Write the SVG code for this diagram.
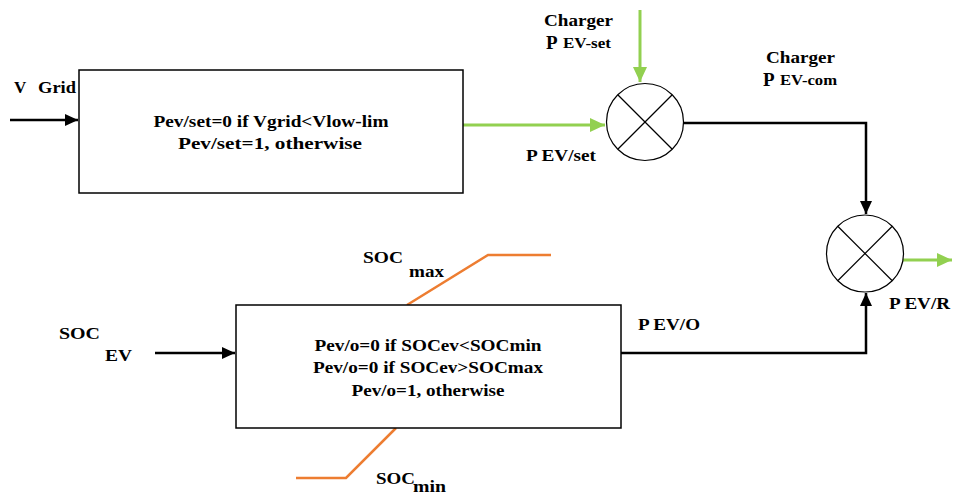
<svg xmlns="http://www.w3.org/2000/svg" width="953" height="497" viewBox="0 0 953 497">
<defs>
<style>
text{font-family:"Liberation Serif","Times New Roman",serif;font-weight:bold;fill:#000;}
.t{font-size:16.5px;}
.l{font-size:17px;}
.p{font-size:19px;}
.s{font-size:14px;}
.blk{stroke:#000;stroke-width:2.5;fill:none;}
.grn{stroke:#92D050;stroke-width:3;fill:none;}
.org{stroke:#ED7D31;stroke-width:2.5;fill:none;}
.box{fill:#fff;stroke:#000;stroke-width:1.5;}
.sum{fill:#fff;stroke:#000;stroke-width:1.2;}
.x{stroke:#000;stroke-width:1.2;}
</style>
<marker id="ab" markerUnits="userSpaceOnUse" markerWidth="14" markerHeight="12" refX="13" refY="6" orient="auto"><path d="M0,0 L13,6 L0,12 Z" fill="#000"/></marker>
<marker id="ag" markerUnits="userSpaceOnUse" markerWidth="16" markerHeight="14" refX="15" refY="7" orient="auto"><path d="M0,0 L15,7 L0,14 Z" fill="#92D050"/></marker>
</defs>
<rect width="953" height="497" fill="#fff"/>
<g id="connectors">
<line class="blk" x1="10" y1="120" x2="78" y2="120" marker-end="url(#ab)"/>
<line class="grn" x1="463" y1="125" x2="605" y2="125" marker-end="url(#ag)"/>
<line class="grn" x1="640" y1="10" x2="640" y2="82" marker-end="url(#ag)"/>
<polyline class="blk" points="683,123 866,123 866,214" marker-end="url(#ab)"/>
<line class="grn" x1="903" y1="260" x2="952" y2="260" marker-end="url(#ag)"/>
<line class="blk" x1="155" y1="353" x2="235" y2="353" marker-end="url(#ab)"/>
<polyline class="blk" points="621,353 866,353 866,293" marker-end="url(#ab)"/>
<polyline class="org" points="407,305 488,255 551,255"/>
<polyline class="org" points="396,428 346,478 296,478"/>
</g>
<g id="block1">
<rect class="box" x="79" y="70" width="384" height="123"/>
<text class="t" x="271" y="127" text-anchor="middle" textLength="235" lengthAdjust="spacingAndGlyphs">Pev/set=0 if Vgrid&lt;Vlow-lim</text>
<text class="t" x="270" y="149" text-anchor="middle" textLength="184" lengthAdjust="spacingAndGlyphs">Pev/set=1, otherwise</text>
</g>
<g id="block2">
<rect class="box" x="236" y="305" width="385" height="123"/>
<text class="t" x="428" y="351" text-anchor="middle" textLength="227" lengthAdjust="spacingAndGlyphs">Pev/o=0 if SOCev&lt;SOCmin</text>
<text class="t" x="428" y="373" text-anchor="middle" textLength="230" lengthAdjust="spacingAndGlyphs">Pev/o=0 if SOCev&gt;SOCmax</text>
<text class="t" x="428" y="396" text-anchor="middle" textLength="153" lengthAdjust="spacingAndGlyphs">Pev/o=1, otherwise</text>
</g>
<g id="sum1">
<circle class="sum" cx="645" cy="122" r="38.5"/>
<line class="x" x1="618" y1="95" x2="672" y2="149"/>
<line class="x" x1="672" y1="95" x2="618" y2="149"/>
</g>
<g id="sum2">
<circle class="sum" cx="865" cy="253.5" r="38.5"/>
<line class="x" x1="838" y1="226.5" x2="892" y2="280.5"/>
<line class="x" x1="892" y1="226.5" x2="838" y2="280.5"/>
</g>
<g id="labels">
<text class="l" x="14" y="93">V</text>
<text class="l" x="38" y="93" textLength="38" lengthAdjust="spacingAndGlyphs">Grid</text>
<text class="l" x="544" y="26" textLength="69" lengthAdjust="spacingAndGlyphs">Charger</text>
<text class="p" x="546" y="49">P</text>
<text class="s" x="563" y="48" textLength="48" lengthAdjust="spacingAndGlyphs">EV-set</text>
<text class="l" x="766" y="63" textLength="69" lengthAdjust="spacingAndGlyphs">Charger</text>
<text class="p" x="763" y="86">P</text>
<text class="s" x="780" y="85" textLength="57" lengthAdjust="spacingAndGlyphs">EV-com</text>
<text class="l" x="526" y="161" textLength="70" lengthAdjust="spacingAndGlyphs">P EV/set</text>
<text class="l" x="889" y="309" textLength="61" lengthAdjust="spacingAndGlyphs">P EV/R</text>
<text class="l" x="638" y="330" textLength="62" lengthAdjust="spacingAndGlyphs">P EV/O</text>
<text class="l" x="59" y="339" textLength="41" lengthAdjust="spacingAndGlyphs">SOC</text>
<text class="l" x="105" y="361" textLength="27" lengthAdjust="spacingAndGlyphs">EV</text>
<text class="l" x="363" y="263" textLength="40" lengthAdjust="spacingAndGlyphs">SOC</text>
<text class="l" x="409" y="277" textLength="35" lengthAdjust="spacingAndGlyphs">max</text>
<text class="l" x="376" y="484" textLength="39" lengthAdjust="spacingAndGlyphs">SOC</text>
<text class="l" x="413" y="492" textLength="33" lengthAdjust="spacingAndGlyphs">min</text>
</g>
</svg>
